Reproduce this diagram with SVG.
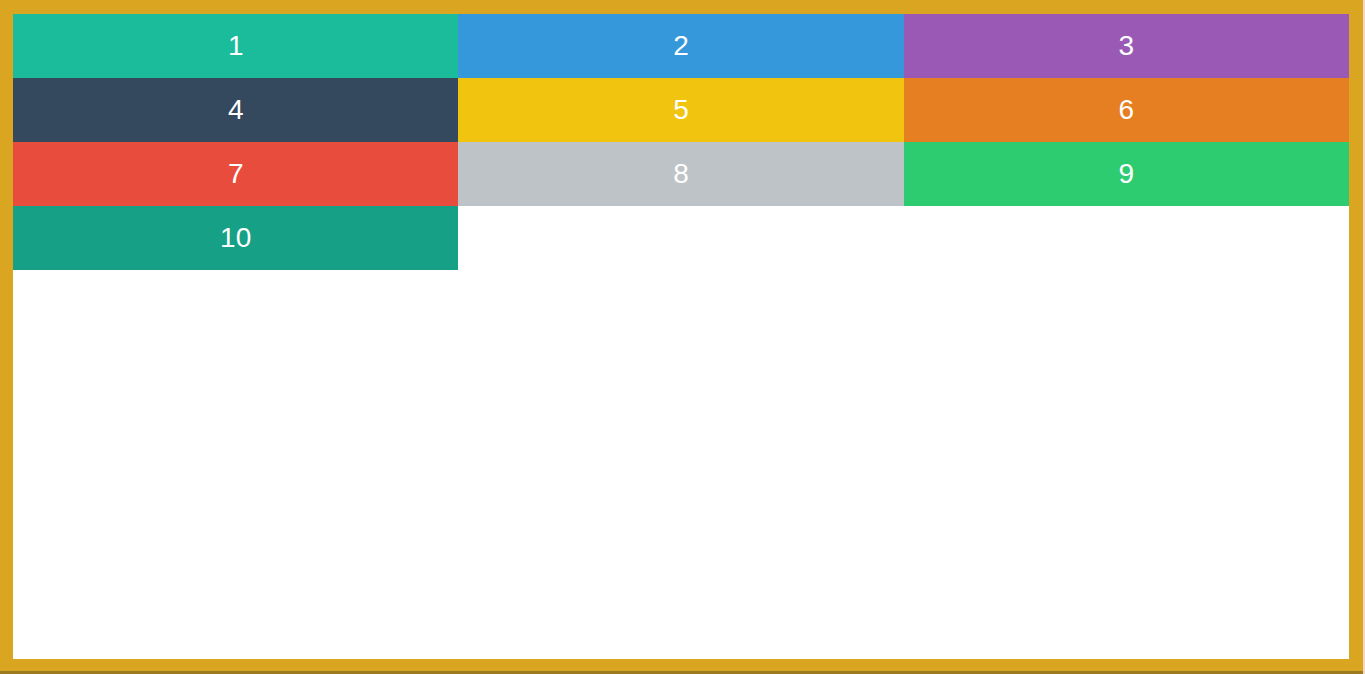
<svg xmlns="http://www.w3.org/2000/svg" width="1365" height="674" viewBox="0 0 1365 674">
<style>
.t{font-family:"Liberation Sans",Arial,sans-serif;font-size:28px;fill:#ffffff;text-anchor:middle}
</style>
<rect x="0" y="0" width="1365" height="674" fill="#daa520"/>
<rect x="0" y="671" width="1365" height="3" fill="#9c7a20"/>
<rect x="1363" y="0" width="2" height="674" fill="#f0d8c8"/>
<rect x="13" y="14" width="1336" height="645" fill="#ffffff"/>
<g id="n1"><rect x="13" y="14" width="445" height="64" fill="#1abc9c"/><text class="t" x="235.7" y="55">1</text></g>
<g id="n2"><rect x="458" y="14" width="446" height="64" fill="#3498db"/><text class="t" x="681" y="55">2</text></g>
<g id="n3"><rect x="904" y="14" width="445" height="64" fill="#9b59b6"/><text class="t" x="1126.3" y="55">3</text></g>
<g id="n4"><rect x="13" y="78" width="445" height="64" fill="#34495e"/><text class="t" x="235.7" y="119">4</text></g>
<g id="n5"><rect x="458" y="78" width="446" height="64" fill="#f1c40f"/><text class="t" x="681" y="119">5</text></g>
<g id="n6"><rect x="904" y="78" width="445" height="64" fill="#e67e22"/><text class="t" x="1126.3" y="119">6</text></g>
<g id="n7"><rect x="13" y="142" width="445" height="64" fill="#e74c3c"/><text class="t" x="235.7" y="183">7</text></g>
<g id="n8"><rect x="458" y="142" width="446" height="64" fill="#bdc3c7"/><text class="t" x="681" y="183">8</text></g>
<g id="n9"><rect x="904" y="142" width="445" height="64" fill="#2ecc71"/><text class="t" x="1126.3" y="183">9</text></g>
<g id="n10"><rect x="13" y="206" width="445" height="64" fill="#16a085"/><text class="t" x="235.7" y="247">10</text></g>
<g id="connectors"></g>
</svg>
